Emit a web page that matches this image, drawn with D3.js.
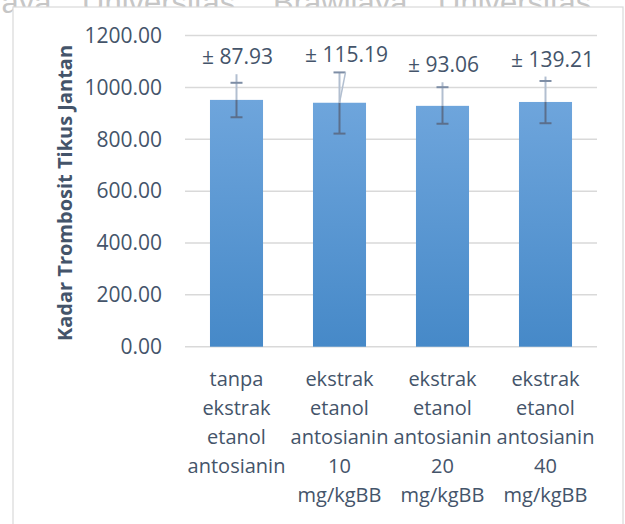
<!DOCTYPE html>
<html><head><meta charset="utf-8">
<script src="https://cdn.jsdelivr.net/npm/d3@7"></script>
<style>body{margin:0;background:#fff}svg{display:block}</style>
</head><body>
<svg id="chart" width="625" height="524"></svg>
<script>
// ---- data ----
const categories = [
  ["tanpa","ekstrak","etanol","antosianin"],
  ["ekstrak","etanol","antosianin","10","mg/kgBB"],
  ["ekstrak","etanol","antosianin","20","mg/kgBB"],
  ["ekstrak","etanol","antosianin","40","mg/kgBB"]
];
const means      = [952, 941, 929, 944];
const sdLabels   = ["± 87.93", "± 115.19", "± 93.06", "± 139.21"];
const upperCaps  = [1018, 1058, 1001, 1025];
const whiskerTop = [1051, 1058, 1020, 1042];
const lowerCaps  = [885, 822, 860, 862];
const diagonalWhisker = [false, true, false, false];
const yTicks = [0, 200, 400, 600, 800, 1000, 1200];
const yTitle = "Kadar Trombosit Tikus Jantan";
const watermark = ["Universitas", "Brawijaya"];

// ---- drawing ----
const svg = d3.select("#chart");
const font = "'Open Sans', sans-serif";
const textCol = "#44546a";

// watermark strip visible above the chart frame
const wm = svg.append("g").attr("fill", "#c6c6c6").attr("font-family", "'Liberation Sans', Arial, sans-serif").attr("font-size", 31);
[-1, 0, 1].forEach(k => {
  wm.append("text").attr("x", 82 + k * 356).attr("y", 13).text(watermark[0]);
  wm.append("text").attr("x", 273 + k * 356).attr("y", 13).text(watermark[1]);
});

// chart area
svg.append("rect").attr("x", 13).attr("y", 7).attr("width", 610).attr("height", 530)
  .attr("fill", "#fff").attr("stroke", "#d9d9d9").attr("stroke-width", 1.2);

const x = d3.scaleBand().domain(d3.range(categories.length)).range([185, 597])
  .paddingInner(0.485).paddingOuter(0.2425);
const y = d3.scaleLinear().domain([0, 1200]).range([346.7, 35.6]);

const defs = svg.append("defs");
const grad = defs.append("linearGradient").attr("id", "barGrad")
  .attr("x1", 0).attr("y1", 0).attr("x2", 0).attr("y2", 1);
grad.append("stop").attr("offset", "0%").attr("stop-color", "#6ea5dc");
grad.append("stop").attr("offset", "100%").attr("stop-color", "#4689c8");

// gridlines
svg.append("g").selectAll("line").data(yTicks).join("line")
  .attr("x1", 185).attr("x2", 597)
  .attr("y1", d => y(d)).attr("y2", d => y(d))
  .attr("stroke", "#d9d9d9").attr("stroke-width", 1.5);

// y axis labels
const yAxis = d3.axisLeft(y).tickValues(yTicks).tickFormat(d3.format(".2f")).tickSize(0).tickPadding(0);
const ya = svg.append("g").attr("transform", "translate(162,0)").call(yAxis);
ya.select(".domain").remove();
ya.selectAll("text").attr("font-family", font).attr("font-size", 21).attr("fill", textCol);

// y title
svg.append("text").attr("transform", "translate(72,193) rotate(-90)")
  .attr("text-anchor", "middle").attr("font-family", font).attr("font-weight", "bold")
  .attr("font-size", 20).attr("fill", textCol).text(yTitle);

// bars
svg.append("g").selectAll("rect").data(means).join("rect")
  .attr("x", (d, i) => x(i)).attr("width", x.bandwidth())
  .attr("y", d => y(d)).attr("height", d => y(0) - y(d))
  .attr("fill", "url(#barGrad)");

// error bars
const eb = svg.append("g");
means.forEach((m, i) => {
  const cx = x(i) + x.bandwidth() / 2;
  eb.append("line").attr("x1", cx).attr("x2", cx).attr("y1", y(m)).attr("y2", y(whiskerTop[i]))
    .attr("stroke", "#b2bfd0").attr("stroke-width", 2);
  eb.append("line").attr("x1", cx).attr("x2", cx).attr("y1", y(lowerCaps[i])).attr("y2", y(m))
    .attr("stroke", "#5b6f8c").attr("stroke-width", 2);
  eb.append("line").attr("x1", cx - 6).attr("x2", cx + 6).attr("y1", y(upperCaps[i])).attr("y2", y(upperCaps[i]))
    .attr("stroke", "#7d8da5").attr("stroke-width", 2);
  eb.append("line").attr("x1", cx - 6).attr("x2", cx + 6).attr("y1", y(lowerCaps[i])).attr("y2", y(lowerCaps[i]))
    .attr("stroke", "#5b6f8c").attr("stroke-width", 2);
  if (diagonalWhisker[i]) {
    eb.append("line").attr("x1", cx + 6).attr("x2", cx).attr("y1", y(upperCaps[i])).attr("y2", y(m))
      .attr("stroke", "#b2bfd0").attr("stroke-width", 1.5);
  }
  svg.append("text").attr("x", cx + (sdLabels[i].length > 7 ? 7 : 1)).attr("y", y(whiskerTop[i]) - 10)
    .attr("text-anchor", "middle").attr("font-family", font).attr("font-size", 21)
    .attr("fill", textCol).text(sdLabels[i]);
});

// category labels
const cg = svg.append("g").attr("font-family", font).attr("font-size", 20).attr("fill", textCol)
  .attr("text-anchor", "middle");
categories.forEach((lines, i) => {
  const cx = x(i) + x.bandwidth() / 2;
  const t = cg.append("text").attr("x", cx).attr("y", 386);
  lines.forEach((ln, j) => {
    t.append("tspan").attr("x", cx).attr("y", 386 + j * 29).text(ln);
  });
});
</script>
</body></html>
